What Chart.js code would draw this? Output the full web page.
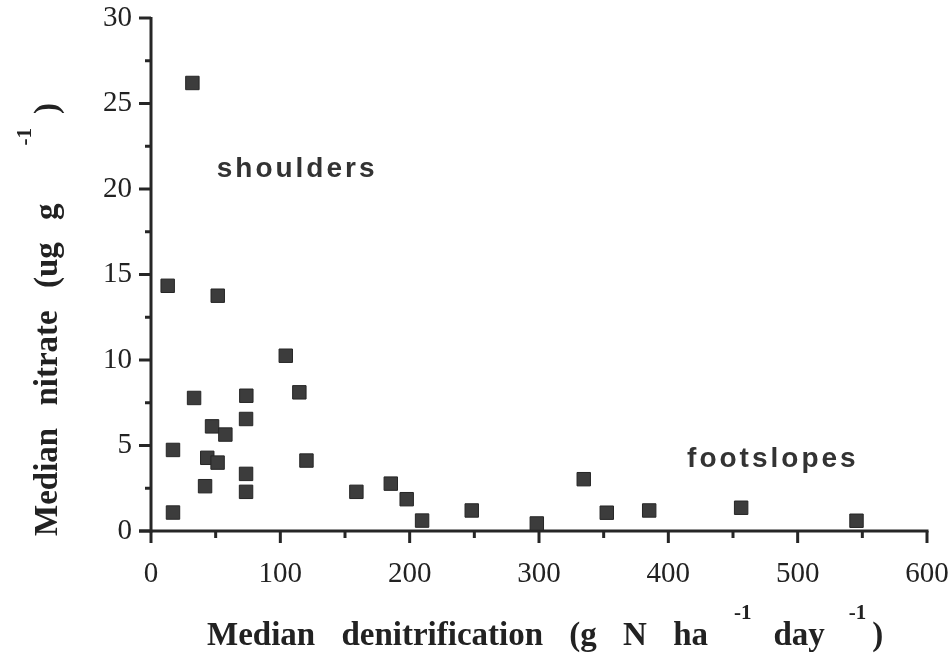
<!DOCTYPE html>
<html>
<head>
<meta charset="utf-8">
<script src="https://cdn.jsdelivr.net/npm/chart.js@4/dist/chart.umd.min.js"></script>
<style>
  html, body { margin: 0; padding: 0; background: #fff; }
  canvas { display: block; }
</style>
</head>
<body>
<canvas id="scatter" width="952" height="656"></canvas>
<script>
// median denitrification (g N ha-1 day-1) per site
const denitrification = [32, 12.9, 51.6, 104.2, 33.3, 73.7, 114.7, 73.5, 47.2, 57.5, 17, 43.5, 51.5, 120.2, 73.5, 41.8, 73.5, 17, 158.8, 185.4, 197.7, 209.6, 248, 298.3, 334.6, 352.4, 385.2, 456.3, 545.5]
// median nitrate (ug g-1) per site
const nitrate = [26.2, 14.34, 13.76, 10.25, 7.78, 7.91, 8.11, 6.55, 6.12, 5.64, 4.74, 4.28, 4.0, 4.12, 3.34, 2.62, 2.29, 1.08, 2.29, 2.77, 1.86, 0.61, 1.2, 0.44, 3.03, 1.07, 1.2, 1.36, 0.6]

const xTicks = [0, 100, 200, 300, 400, 500, 600]
const yTicks = [0, 5, 10, 15, 20, 25, 30]
const xMinor = [50, 150, 250, 350, 450, 550]
const yMinor = [2.5, 7.5, 12.5, 17.5, 22.5, 27.5]

// text labels placed in data units
const groupLabels = [
  { text: 'shoulders', x: 50.8, y: 20.7 },
  { text: 'footslopes', x: 414.5, y: 3.74 },
]

const ink = '#262626'
const serif = '"Liberation Serif", "Times New Roman", serif'
const big = 'bold 33px ' + serif
const sup = 'bold 21px ' + serif

// title pieces: text, font, raise, gap before
const xTitle = [
  ['Median denitrification (g N ha', big, 0, 0],
  ['-1', sup, -26, 26],
  ['day', big, 0, 22],
  ['-1', sup, -26, 24],
  [')', big, 0, 6],
]
const yTitle = [
  ['Median nitrate (ug g', big, 0, 0],
  ['-1', sup, -26, 58],
  [')', big, 0, 14],
]

function drawPieces(ctx, pieces, x, y) {
  pieces.forEach(([t, f, dy, gap]) => {
    ctx.font = f
    x += gap
    ctx.fillText(t, x, y + dy)
    x += ctx.measureText(t).width
  })
}

const axesDecor = {
  id: 'axesDecor',
  beforeDatasetsDraw(chart) {
    const { ctx } = chart
    const xs = chart.scales.x
    const ys = chart.scales.y
    const x0 = xs.getPixelForValue(0)
    const x1 = xs.getPixelForValue(600)
    const y0 = ys.getPixelForValue(0)
    const y1 = ys.getPixelForValue(30)
    ctx.save()
    ctx.strokeStyle = ink
    ctx.lineCap = 'butt'
    ctx.lineWidth = 3
    ctx.beginPath()
    ctx.moveTo(x0, y0 + 1.5)
    ctx.lineTo(x0, y1 - 1)
    ctx.stroke()
    ctx.beginPath()
    ctx.moveTo(x0 - 12, y0)
    ctx.lineTo(x1 + 1.5, y0)
    ctx.stroke()

    yTicks.forEach(v => {
      const p = ys.getPixelForValue(v)
      ctx.beginPath(); ctx.moveTo(x0 - 12, p); ctx.lineTo(x0, p); ctx.stroke()
    })
    yMinor.forEach(v => {
      const p = ys.getPixelForValue(v)
      ctx.beginPath(); ctx.moveTo(x0 - 6, p); ctx.lineTo(x0, p); ctx.stroke()
    })
    xTicks.forEach(v => {
      const p = xs.getPixelForValue(v)
      ctx.beginPath(); ctx.moveTo(p, y0); ctx.lineTo(p, y0 + 12); ctx.stroke()
    })
    xMinor.forEach(v => {
      const p = xs.getPixelForValue(v)
      ctx.beginPath(); ctx.moveTo(p, y0); ctx.lineTo(p, y0 + 7); ctx.stroke()
    })
    ctx.restore()
  },
  afterDraw(chart) {
    const { ctx } = chart
    const xs = chart.scales.x
    const ys = chart.scales.y
    ctx.save()
    ctx.fillStyle = '#333'
    ctx.font = 'bold 28px "Liberation Sans", Arial, sans-serif'
    ctx.letterSpacing = '3px'
    ctx.textBaseline = 'alphabetic'
    groupLabels.forEach(l => {
      ctx.fillText(l.text, xs.getPixelForValue(l.x), ys.getPixelForValue(l.y))
    })
    ctx.letterSpacing = '0px'

    ctx.fillStyle = '#222'
    ctx.wordSpacing = '18px'
    drawPieces(ctx, xTitle, 207, 645)

    ctx.wordSpacing = '14px'
    ctx.translate(57, 536)
    ctx.rotate(-Math.PI / 2)
    drawPieces(ctx, yTitle, 0, 0)
    ctx.restore()
  },
}

new Chart(document.getElementById('scatter'), {
  type: 'scatter',
  data: {
    datasets: [
      {
        label: 'sites',
        data: denitrification.map((d, i) => ({ x: d, y: nitrate[i] })),
        pointStyle: 'rect',
        pointRadius: 9.5,
        backgroundColor: '#3c3c3c',
        borderColor: '#262626',
        borderWidth: 1,
      },
    ],
  },
  options: {
    responsive: false,
    animation: false,
    layout: { padding: { top: 18, right: 25, left: 0, bottom: 0 } },
    plugins: {
      legend: { display: false },
      tooltip: { enabled: false },
    },
    scales: {
      x: {
        type: 'linear',
        min: 0,
        max: 600,
        grid: { display: false, drawTicks: false },
        border: { display: false },
        afterFit: s => {
          s.height = 125
          s.paddingLeft = 0
          s.paddingRight = 0
        },
        afterBuildTicks: s => { s.ticks = xTicks.map(v => ({ value: v })) },
        ticks: {
          padding: 26,
          color: '#222',
          font: { family: serif, size: 29 },
          maxRotation: 0,
        },
      },
      y: {
        type: 'linear',
        min: 0,
        max: 30,
        grid: { display: false, drawTicks: false },
        border: { display: false },
        afterFit: s => {
          s.width = 151
          s.paddingTop = 0
          s.paddingBottom = 0
        },
        afterBuildTicks: s => { s.ticks = yTicks.map(v => ({ value: v })) },
        ticks: {
          padding: 19,
          color: '#222',
          font: { family: serif, size: 29 },
        },
      },
    },
  },
  plugins: [axesDecor],
})
</script>
</body>
</html>
